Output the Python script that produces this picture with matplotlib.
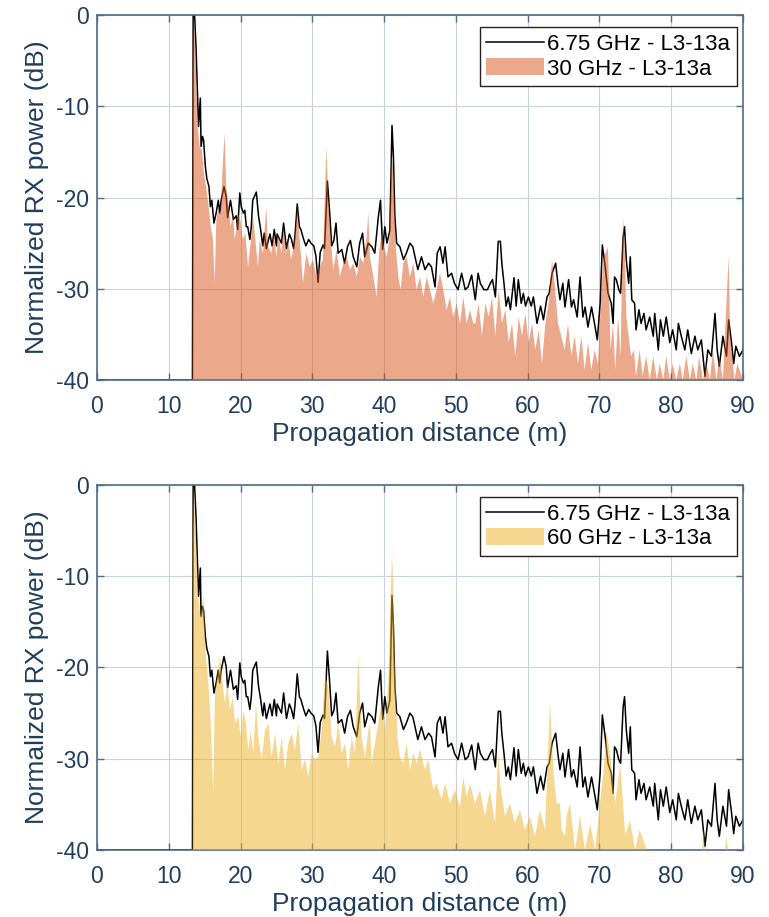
import numpy as np
import matplotlib
matplotlib.use("Agg")
import matplotlib.pyplot as plt

# 6.75 GHz reference trace (same in both panels)
d_675 = [0, 13.3, 13.4, 13.6, 13.8, 14.07, 14.15, 14.4, 14.5, 14.7, 14.85, 15.1, 15.3, 15.6, 15.8,
         16.0, 16.3, 16.6, 16.9, 17.1, 17.3, 17.7, 18.0, 18.2, 18.6, 19.0, 19.4, 19.6, 19.9, 20.1,
         20.4, 20.6, 20.8, 21.0, 21.3, 21.5, 21.7, 22.2, 22.5, 22.8, 23.1, 23.3, 23.6, 23.9, 24.1,
         24.4, 24.7, 25.0, 25.1, 25.7, 26.0, 26.4, 26.8, 27.1, 27.4, 27.6, 27.9, 28.2, 28.4, 28.8,
         29.1, 29.5, 29.8, 30.2, 30.5, 30.8, 31.1, 31.5, 31.7, 32.1, 32.4, 32.7, 33.0, 33.3, 33.6,
         34.1, 34.5, 34.9, 35.3, 35.7, 36.2, 36.6, 37.0, 37.3, 37.8, 38.3, 38.7, 39.2, 39.5, 39.8,
         40.1, 40.4, 40.8, 41.1, 41.3, 41.5, 41.75, 42.2, 42.7, 43.1, 43.6, 44.0, 44.4, 44.7, 45.2,
         45.7, 46.2, 46.6, 47.1, 47.4, 47.8, 48.2, 48.5, 48.9, 49.4, 49.8, 50.3, 50.8, 51.3, 51.7,
         52.2, 52.7, 53.1, 53.4, 53.9, 54.4, 54.8, 55.1, 55.5, 55.9, 56.2, 56.4, 56.7, 57.0, 57.3,
         57.6, 58.1, 58.4, 58.7, 59.1, 59.4, 59.7, 60.1, 60.5, 60.8, 61.3, 61.8, 62.2, 62.7, 63.0,
         63.4, 63.9, 64.2, 64.5, 64.9, 65.2, 65.7, 66.1, 66.4, 66.9, 67.3, 67.7, 68.0, 68.4, 68.9,
         69.4, 69.7, 70.1, 70.4, 70.8, 71.2, 71.65, 71.9, 72.1, 72.35, 72.7, 72.95, 73.3, 73.5,
         73.75, 74.07, 74.3, 74.5, 74.9, 75.1, 75.5, 75.8, 76.2, 76.5, 77.0, 77.5, 77.7, 78.2,
         78.5, 78.9, 79.3, 79.8, 80.2, 80.7, 81.0, 81.4, 81.9, 82.3, 82.8, 83.3, 83.7, 84.2, 84.7,
         85.1, 85.6, 86.1, 86.4, 86.7, 87.2, 87.7, 88.0, 88.4, 88.7, 89.0, 89.5, 90.0]
p_675 = [-40, -40, 0, 0, -3.5, -10.4, -12.2, -9.1, -14.4, -13.3, -13.7, -16.6, -17.9, -18.8, -21,
         -20.3, -22.8, -21.7, -20.3, -21.7, -20.3, -18.8, -19.9, -22.2, -20.3, -22.4, -22, -23.5, -19.5, -21,
         -21.7, -21.4, -23.2, -23.2, -24.6, -23.2, -20.3, -19.4, -22, -23.5, -25.3, -23.9, -25.6, -24.6, -24,
         -25.3, -23.5, -25.3, -24, -25, -22.8, -25.6, -24, -24.6, -25.6, -24, -20.7, -23.2, -23.5, -24.6,
         -25.3, -24.6, -25, -25.3, -26.4, -29.3, -26, -25.2, -25.6, -18.2, -21.4, -25.3, -24.7, -22.8, -26.1,
         -25.7, -27.2, -25.4, -24.7, -26.5, -27.6, -25.0, -23.9, -26.5, -25.0, -25.4, -26.1, -22.1, -20.3, -25.7,
         -23.2, -25.0, -23.6, -12.1, -15.5, -22.1, -25.0, -25.4, -26.8, -26.1, -25.0, -25.4, -26.8, -27.9, -26.5,
         -27.9, -27.2, -27.6, -29.8, -26.1, -25.4, -27.2, -25.4, -28.7, -28.3, -29.4, -30.1, -28.3, -30.1, -29.8,
         -28.5, -31.2, -28.3, -29.4, -30.1, -30.1, -29.4, -29, -30.9, -24.8, -24.8, -27.2, -29.4, -31.9, -30.9,
         -32.3, -28.8, -31.9, -29, -31.6, -30.5, -31.9, -30.9, -31.9, -30.9, -33.8, -31.9, -33.4, -30.9, -30.5,
         -28.3, -27.2, -29.4, -31.2, -29.4, -32, -29, -32, -31.2, -33.1, -28.7, -33.1, -32, -34.2, -32,
         -34.2, -35.6, -31.6, -25.2, -27.6, -30.5, -31.6, -33.8, -28.7, -29, -30.1, -30.5, -24.3, -23.2,
         -26.9, -29.4, -26.5, -31.2, -31.6, -34.5, -32.3, -33.8, -32.7, -34.5, -33.1, -35.2, -32.7, -36.7,
         -33.4, -35.2, -33.1, -35.9, -34.5, -36.7, -33.8, -35.2, -36.7, -34.5, -37.1, -35.2, -36.7, -35.6, -39.6,
         -36.7, -37.4, -32.7, -36.7, -38.5, -35.2, -37.4, -33.4, -35.9, -38.2, -36.3, -37.4, -36.7]

# 30 GHz trace
d_30 = [0, 13.3, 13.32, 13.5, 13.7, 14.0, 14.3, 14.63, 14.9, 15.2, 15.56, 15.84, 16.16, 16.4, 16.63,
        16.86, 17.23, 17.55, 17.79, 18.0, 18.25, 18.62, 18.95, 19.18, 19.41, 19.64, 20.02, 20.34, 20.67,
        21.04, 21.41, 21.73, 21.97, 22.43, 22.66, 23.13, 23.59, 23.82, 24.29, 24.66, 24.98, 25.31, 25.68,
        26.0, 26.38, 26.61, 27.07, 27.54, 27.91, 28.24, 28.7, 29.17, 29.63, 30.1, 30.56, 31.03, 31.49,
        31.95, 32.28, 32.65, 32.92, 33.39, 33.85, 34.32, 34.78, 35.25, 35.71, 36.18, 36.64, 37.1, 37.57,
        37.8, 38.03, 38.5, 38.96, 39.33, 39.66, 39.98, 40.36, 40.73, 41.05, 41.28, 41.65, 41.98, 42.3,
        42.67, 43.14, 43.6, 44.07, 44.53, 45.0, 45.46, 45.93, 46.39, 46.86, 47.32, 47.78, 48.25, 48.71,
        49.18, 49.64, 50.11, 50.57, 51.04, 51.5, 51.96, 52.43, 52.71, 53.17, 53.63, 54.1, 54.57, 55.03,
        55.49, 55.96, 56.42, 56.89, 57.35, 57.82, 58.28, 58.75, 59.21, 59.67, 60.14, 60.6, 61.07, 61.53,
        62.0, 62.46, 62.92, 63.39, 63.76, 64.22, 64.69, 65.15, 65.62, 66.08, 66.55, 67.01, 67.48, 67.94,
        68.41, 68.87, 69.33, 69.8, 70.27, 70.59, 71.06, 71.19, 71.55, 71.9, 72.2, 72.6, 72.95, 73.28,
        73.51, 73.75, 74.07, 74.4, 74.8, 75.1, 75.6, 76.0, 76.5, 77.0, 77.5, 78.0, 78.4, 78.9, 79.3,
        79.8, 80.2, 80.7, 81.2, 81.6, 82.1, 82.6, 83.0, 83.5, 83.9, 84.4, 84.9, 85.4, 85.8, 86.3, 86.7,
        87.2, 87.6, 88.0, 88.2, 88.8, 89.2, 90.0]
p_30 = [-40, -40, -8, 0, -3.5, -11.9, -14.4, -14.8, -17.4, -18.8, -21, -23.2, -24.6, -29.4, -22.4,
        -21.4, -21.7, -15.9, -13.0, -18.8, -20.3, -23.2, -21.7, -24.6, -23.5, -21.7, -22.6, -24.6, -23.9,
        -27.6, -25.0, -22.1, -23.9, -27.6, -24.6, -26.1, -21.0, -25.3, -26.1, -23.9, -26.5, -23.9, -26.1,
        -23.2, -26.1, -24.6, -26.8, -24.6, -21.0, -24.6, -29.4, -26.1, -27.6, -26.8, -28.7, -27.6, -26.8,
        -14.5, -21.0, -25.3, -27.9, -25.7, -28.7, -27.2, -26.5, -27.9, -27.2, -28.7, -26.5, -27.2, -24.3,
        -21.7, -26.5, -28.7, -30.9, -25.7, -23.9, -25.4, -26.5, -24.7, -15.5, -17.0, -25.7, -28.7, -30.1,
        -27.2, -26.5, -28.7, -27.2, -30.1, -28.7, -30.9, -28.7, -30.1, -31.6, -30.1, -28.3, -30.1, -32.3,
        -30.9, -33.1, -31.6, -33.8, -30.9, -33.8, -32.3, -33.8, -33.8, -31.6, -35.2, -31.6, -33.1, -30.9,
        -35.2, -30.1, -33.8, -32.3, -35.9, -33.8, -37.4, -33.1, -35.2, -32.7, -35.9, -33.8, -36.7, -34.5,
        -38.2, -33.8, -31.6, -26.8, -29.4, -33.8, -35.2, -36.7, -33.8, -37.4, -35.2, -38.2, -35.2, -38.9,
        -35.9, -38.9, -36.7, -38.2, -30.1, -26.5, -25.7, -25.4, -36.7, -33.8, -38.9, -33.1, -37.4, -22.1,
        -25.0, -33.1, -35.2, -37.4, -36.7, -39.6, -36.7, -39.6, -37.4, -40, -37.4, -40, -38.2, -40, -37.4,
        -40, -38.2, -40, -38.2, -40, -37.4, -40, -38.2, -40, -37.4, -40, -38.2, -40, -36.7, -40, -37.4,
        -40, -33.1, -26.4, -34.9, -40, -38.2, -40]

# 60 GHz trace
d_60 = [0, 13.33, 13.35, 13.51, 13.79, 14.1, 14.44, 14.82, 15.19, 15.51, 15.84, 16.2, 16.44, 16.76,
        17.14, 17.51, 17.83, 18.16, 18.53, 18.9, 19.23, 19.69, 20.02, 20.39, 20.76, 21.08, 21.41, 21.78,
        22.15, 22.48, 22.94, 23.41, 23.87, 24.33, 24.8, 25.26, 25.73, 26.19, 26.66, 27.12, 27.58, 28.05,
        28.51, 28.98, 29.44, 29.91, 30.37, 30.84, 31.3, 31.76, 32.23, 32.69, 33.16, 33.62, 34.09, 34.55,
        35.01, 35.48, 35.94, 36.41, 36.87, 37.34, 37.8, 38.03, 38.26, 38.73, 39.19, 39.66, 40.12, 40.59,
        40.91, 41.1, 41.28, 41.51, 41.84, 42.21, 42.68, 43.14, 43.61, 44.07, 44.53, 45.0, 45.69, 46.16,
        46.85, 47.32, 48.01, 48.48, 49.17, 49.87, 50.57, 51.03, 51.5, 51.96, 52.66, 53.36, 54.05, 54.75,
        55.45, 55.91, 56.23, 56.84, 57.53, 58.23, 58.93, 59.62, 60.32, 61.02, 61.71, 62.41, 63.11, 63.57,
        64.04, 64.5, 64.73, 65.2, 65.43, 65.9, 66.6, 67.3, 68.0, 68.7, 69.4, 70.07, 70.6, 71.0, 71.45,
        72.2, 72.9, 73.6, 74.25, 74.95, 75.6, 76.6, 84.3, 84.5, 84.7, 87.5, 87.7, 87.9, 90.0]
p_60 = [-40, -40, -6, 0, -5.7, -12.2, -14.4, -12.2, -18.8, -21.7, -25.8, -33.8, -22.5, -21.0,
        -18.8, -21.7, -23.9, -21.7, -24.7, -23.2, -26.1, -25.4, -27.6, -24.7, -26.1, -29.0, -26.9, -29.4,
        -23.9, -27.6, -30.1, -26.9, -26.1, -29.8, -27.2, -30.5, -27.6, -31.2, -28.3, -27.2, -29.0, -26.1,
        -31.2, -30.1, -32.0, -29.4, -30.1, -29.8, -26.9, -21.0, -22.1, -27.6, -28.7, -26.1, -29.4, -28.3,
        -31.2, -27.6, -29.4, -18.8, -27.6, -29.8, -26.9, -26.1, -30.5, -28.3, -26.1, -23.9, -26.9, -21.7,
        -12.2, -7.5, -10.8, -20.3, -27.6, -29.8, -30.5, -28.3, -31.2, -29.4, -30.5, -29.0, -31.2, -30.1,
        -33.4, -32.7, -34.5, -32.7, -34.9, -33.4, -35.3, -32.0, -34.2, -32.7, -34.9, -33.4, -36.3, -33.4,
        -37.1, -29.4, -33.1, -36.3, -34.9, -37.1, -35.6, -37.8, -36.3, -38.5, -35.6, -37.8, -23.9, -31.2,
        -34.9, -34.9, -37.8, -38.5, -36.3, -34.9, -40, -36.3, -40, -37.1, -40, -34.9, -31.2, -26.9, -29.4,
        -34.9, -30.5, -38.5, -36.7, -40, -37.8, -40, -40, -37.8, -40, -40, -38.5, -40, -40]

panels = [(d_30, p_30, '30 GHz - L3-13a', (0.850, 0.325, 0.098)),
          (d_60, p_60, '60 GHz - L3-13a', (0.929, 0.694, 0.125))]

plt.rcParams['font.family'] = ['Liberation Sans', 'DejaVu Sans']
plt.rcParams['axes.unicode_minus'] = False
text_col = '#1f3d5c'
axis_col = '#4f6d8a'

fig = plt.figure(figsize=(7.69, 9.17), dpi=100)
boxes = [[0.1261, 0.5856, 0.8401, 0.3980], [0.1261, 0.0731, 0.8401, 0.3980]]

for box, (dd, pp, lab, col) in zip(boxes, panels):
    ax = fig.add_axes(box)
    ax.plot(d_675, p_675, color='black', lw=1.1, zorder=2, label='6.75 GHz - L3-13a')
    ax.fill_between(dd, pp, -40, facecolor=col, alpha=0.5, lw=0, zorder=3, label=lab)
    ax.set_xlim(0, 90)
    ax.set_ylim(-40, 0)
    ax.set_xticks(np.arange(0, 91, 10))
    ax.set_yticks(np.arange(-40, 1, 10))
    ax.grid(True, color='#c9d2dc', lw=0.8)
    ax.set_axisbelow(True)
    ax.tick_params(direction='in', top=True, right=True, length=5, width=1,
                   colors=axis_col, labelcolor=text_col, labelsize=16.5)
    ax.tick_params(axis='x', pad=11)
    ax.tick_params(axis='y', pad=6)
    for s in ax.spines.values():
        s.set_color(axis_col)
        s.set_linewidth(1.2)
    ax.set_xlabel('Propagation distance (m)', fontsize=19, color=text_col, labelpad=3)
    ax.set_ylabel('Normalized RX power (dB)', fontsize=19, color=text_col, labelpad=5)
    leg = ax.legend(loc='upper right', bbox_to_anchor=(0.9907, 0.967), borderaxespad=0,
                    fontsize=16, fancybox=False, framealpha=1, edgecolor='#222222',
                    handlelength=2.6, handleheight=0.8, handletextpad=0.15,
                    labelspacing=0.15, borderpad=0.3)
    leg.get_frame().set_linewidth(1.0)

fig.savefig('out.png', dpi=100)
